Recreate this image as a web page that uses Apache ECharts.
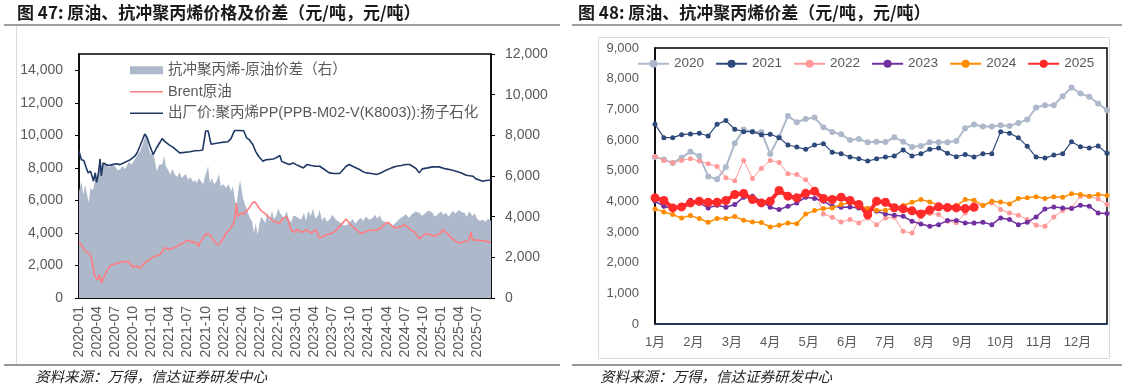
<!DOCTYPE html>
<html><head><meta charset="utf-8">
<script src="https://cdn.jsdelivr.net/npm/echarts@6/dist/echarts.min.js"></script>
<style>html,body{margin:0;padding:0;background:#fff}#c{width:1126px;height:390px}</style>
</head><body><div id="c"></div>
<script>
// ---------- Figure 47 (left) : x = months since 2020-01 ----------
const quarterLabels = ['2020-01','2020-04','2020-07','2020-10','2021-01','2021-04','2021-07','2021-10','2022-01','2022-04','2022-07','2022-10','2023-01','2023-04','2023-07','2023-10','2024-01','2024-04','2024-07','2024-10','2025-01','2025-04','2025-07'];

const ppT = [0,0.4,0.8,1.2,1.5,1.9,2.2,2.4,2.7,2.9,3.2,3.5,3.7,4.0,4.5,5.0,5.5,6.2,6.8,7.4,7.9,8.5,9.2,9.6,10.1,10.5,10.9,11.3,11.8,12.3,12.8,13.3,13.8,14.3,15.0,15.5,16.1,16.7,17.5,18.4,19.2,20.0,20.5,20.8,21.0,21.4,21.9,22.6,23.3,24.0,24.7,25.2,25.5,25.8,26.5,27.3,27.8,28.3,28.8,29.3,29.8,30.5,31.0,31.6,32.2,32.7,33.3,33.6,34.2,34.9,35.5,36.0,36.6,37.2,37.8,38.5,39.2,39.9,40.7,41.5,42.3,43.2,43.8,44.3,44.8,45.6,46.5,47.0,47.6,48.5,49.3,50.1,50.9,51.8,52.6,53.4,54.2,54.8,55.3,55.9,56.4,56.9,57.8,58.6,59.7,60.8,61.6,62.5,63.3,64.2,65.3,65.8,66.4,66.9,67.5,68.1,68.3];
const ppV = [9020,8500,8450,8000,7700,7800,7450,7180,7700,7100,7600,8540,7500,8300,8200,8150,8200,8250,8200,8300,8400,8500,8700,8900,9330,9700,10080,9850,9300,8820,9190,9500,9800,9600,9400,9290,9100,8920,8950,8990,9050,9070,9100,9800,10270,10270,9450,9500,9540,9580,9610,9800,10060,10300,10300,10280,9840,9700,9440,9000,8700,8410,8500,8520,8550,8620,8760,8400,8300,8203,8300,8200,8100,7995,8203,8150,8100,8099,7900,7692,7650,7650,7900,8099,8203,8050,7900,7780,7692,7650,7590,7700,7860,8000,8099,8150,8203,8203,8099,7950,7692,7937,8000,8060,8060,7937,7880,7795,7700,7549,7487,7323,7250,7180,7220,7240,7240];

const brentT = [0,0.35,0.7,1.0,1.3,1.8,2.1,2.4,2.6,3.1,3.4,3.75,4.0,4.3,4.85,5.2,5.6,6.2,6.8,7.5,8.2,8.6,8.9,9.2,9.5,10.1,10.6,11.2,11.8,12.3,12.9,13.4,13.9,14.3,14.8,15.5,16.2,16.8,17.3,17.8,18.5,19.3,19.9,20.0,20.5,20.9,21.3,21.7,22.2,22.6,23.0,23.5,24.0,24.4,24.9,25.3,25.8,26.1,26.3,26.6,26.9,27.3,27.6,28.0,28.4,28.8,29.2,29.5,29.9,30.3,30.8,31.2,31.7,32.2,32.7,33.3,33.8,34.1,34.4,34.7,35.2,35.5,35.9,36.1,36.6,37.0,37.7,38.5,39.3,39.6,39.9,40.5,41.0,41.6,42.1,42.7,43.2,43.8,44.3,44.6,45.0,45.5,46.0,46.4,46.8,47.6,48.4,49.1,49.8,50.3,50.9,51.3,51.8,52.4,53.0,53.5,53.9,54.5,55.0,55.7,56.1,56.4,57.0,57.5,58.0,58.6,59.2,59.8,60.3,60.7,61.1,61.5,61.9,62.5,63.0,63.5,63.9,64.5,65.0,65.2,65.8,66.4,67.0,67.5,68.2];
const brentV = [3423,3300,3080,2900,2808,2725,2360,1800,1330,1125,1430,920,1200,1430,1840,1950,2047,2120,2190,2230,2250,2050,1900,2000,1985,1840,2050,2250,2400,2517,2600,2660,2900,3110,2970,3050,3175,3300,3380,3545,3480,3420,3175,3380,3650,3890,3950,3890,3585,3400,3275,3420,3700,4000,4200,4405,4775,5840,5020,5100,5225,5125,5300,5430,5650,5880,5900,5800,5500,5330,5200,5060,4900,4715,4650,4610,4900,5020,5000,4715,4150,4100,4040,4240,4100,4040,4200,3995,4200,3900,3690,3800,3895,3950,3995,4200,4405,4650,4855,4815,4510,4350,4200,4050,3955,4100,4200,4150,4240,4400,4610,4650,4450,4305,4350,4405,4510,4350,4200,4040,3800,3630,3800,3955,3900,3835,3835,3950,4200,4050,3955,3800,3630,3500,3380,3420,3480,3500,4040,3585,3560,3545,3520,3480,3420];

const spreadT = [0,0.4,0.7,1.0,1.3,1.6,1.9,2.3,2.6,2.9,3.2,3.5,3.8,4.2,4.6,5.0,5.5,6.0,6.4,6.8,7.2,7.6,7.9,8.3,8.7,9.0,9.4,9.7,10.1,10.5,10.9,11.2,11.5,11.9,12.2,12.6,12.9,13.3,13.8,14.1,14.4,14.8,15.1,15.5,15.9,16.3,16.7,17.0,17.3,17.7,18.1,18.5,18.9,19.2,19.5,19.9,20.2,20.6,20.9,21.1,21.4,21.7,22.0,22.4,22.8,23.2,23.5,23.9,24.4,24.8,25.2,25.5,25.8,26.1,26.4,26.7,26.9,27.2,27.5,27.8,28.0,28.4,28.7,29.0,29.3,29.6,29.9,30.2,30.5,30.9,31.2,31.6,32.0,32.3,32.7,33.0,33.3,33.6,34.0,34.4,34.8,35.2,35.5,35.9,36.2,36.5,36.9,37.3,37.6,38.0,38.4,38.8,39.2,39.6,39.9,40.3,40.7,41.1,41.6,42.0,42.4,42.8,43.2,43.7,44.3,44.8,45.4,45.8,46.2,46.7,47.1,47.6,48.1,48.6,49.1,49.5,49.8,50.3,50.9,51.4,52.0,52.5,53.1,53.6,54.2,54.7,55.2,55.8,56.4,56.9,57.4,57.9,58.6,59.0,59.5,60.0,60.4,60.8,61.3,61.9,62.4,63.0,63.5,63.9,64.3,64.7,65.2,65.6,66.0,66.4,66.9,67.4,67.8,68.3];
const spreadV = [5240,5745,5080,5580,5580,4690,5420,5300,5700,5905,6300,6970,6230,6700,6560,6400,6600,6450,6300,6310,6500,6350,6480,6700,6550,6640,6900,7050,7215,7500,7870,8050,7460,7050,7200,6720,6230,6560,6560,7000,6480,6300,6070,6350,6070,5950,6200,5905,5905,6100,5820,5950,5700,5800,5660,5900,5740,5600,6000,6150,6500,5660,5900,5600,5740,6100,5500,5600,5420,5600,5250,5500,4920,4500,5250,5800,5420,4900,4600,4400,4190,3900,3780,3200,3700,3100,3620,4000,3950,3700,4200,3780,4300,3900,4030,4400,4195,4280,3900,4280,3870,3720,4030,4030,4120,3900,3880,4200,3800,4280,4030,4400,3900,4050,4330,3800,4000,3750,3880,4100,3920,3800,3720,3600,3560,3700,3880,3650,3800,3950,3800,4010,3850,3920,4100,3900,4080,3800,3720,3650,3560,3700,3880,4000,4120,3950,4120,4250,4195,4050,4170,4300,4195,4000,4120,4250,4100,4195,4000,4280,4150,4330,4200,4195,4000,4280,4030,4150,3900,3800,3850,3750,3900,3800];

// ---------- Figure 48 (right) : x = week of year ----------
const monthLabels = ['1月','2月','3月','4月','5月','6月','7月','8月','9月','10月','11月','12月'];
const y2020 = [5444,5368,5248,5422,5619,5477,4811,4724,5117,5891,6339,6273,6262,5542,6110,6786,6579,6688,6732,6415,6262,6186,6000,6033,5924,5946,5935,6088,5946,5771,5804,5924,5924,5930,5968,6382,6502,6437,6437,6480,6459,6557,6666,7059,7135,7135,7430,7713,7517,7408,7190,6971];
const y2021 = [6513,6077,6077,6175,6197,6219,6131,6513,6633,6350,6273,6273,6175,6186,6077,5837,5771,5695,5837,5880,5597,5553,5444,5390,5313,5390,5444,5477,5673,5477,5553,5695,5739,5564,5455,5531,5444,5553,5553,6273,6219,6077,5793,5444,5411,5509,5553,5946,5782,5739,5804,5564];
const y2022 = [5466,5335,5259,5335,5390,5313,5226,5139,4768,4669,5335,4746,5073,5335,5270,4899,4877,4700,4385,3589,3480,3328,3404,3295,3458,3240,3458,3480,3022,2967,3500,3600,3567,3349,3300,3622,3895,3873,3949,3731,3622,3546,3404,3218,3186,3491,3698,3786,4168,4168,4080,3895];
const y2023 = [4004,3840,3764,3808,4037,3949,3786,3873,3808,3895,4135,4168,4004,3808,3731,3840,3949,4135,4091,4004,3840,3808,3819,3786,3764,3677,3589,3546,3513,3349,3262,3186,3240,3371,3371,3295,3295,3317,3240,3458,3404,3240,3317,3491,3753,3819,3786,3764,3873,3840,3622,3600];
const y2024 = [3753,3655,3568,3458,3535,3437,3317,3437,3437,3502,3382,3328,3306,3164,3218,3295,3273,3589,3698,3764,3786,3895,3950,3862,3764,3709,3709,3786,3862,3971,4059,3982,3873,3850,3862,4059,4037,3862,4004,3982,3917,4091,4113,4146,4091,4146,4135,4244,4222,4168,4222,4190];
const y2025 = [4113,4026,3786,3819,3949,4004,3971,3971,4026,4222,4255,4059,3949,4004,4353,4168,4113,4260,4331,4091,4059,4135,4026,3895,3560,4004,3970,3790,3760,3690,3589,3715,3820,3795,3786,3764,3808];

const leftNames = ['抗冲聚丙烯-原油价差（右）','Brent原油','出厂价:聚丙烯PP(PPB-M02-V(K8003)):扬子石化'];
const yearNames = ['2020','2021','2022','2023','2024','2025'];

const FONT = "'Liberation Sans','Noto Sans CJK SC',sans-serif";
const pair = (t, v) => t.map((x, i) => [x, v[i]]);
const wk = v => v.map((y, i) => [i, y]);
const fmt = v => v.toLocaleString('en-US');
const GRAY = '#595959';
const MONTH = 52 / 12;
const BAR = 'path://M0,0L40,0L40,2L0,2Z';

const chart = echarts.init(document.getElementById('c'), null, {renderer: 'canvas'});
const yearStyle = [
  {color: '#adb9ca', width: 2, size: 6},
  {color: '#2e4a7a', width: 1.2, size: 5},
  {color: '#ff9999', width: 1, size: 5},
  {color: '#7030a0', width: 1.5, size: 5},
  {color: '#ff8c00', width: 1.5, size: 5},
  {color: '#ff2a2a', width: 4, size: 9}
];
const yearData = [y2020, y2021, y2022, y2023, y2024, y2025];

chart.setOption({
  backgroundColor: '#fff',
  animation: false,
  textStyle: {fontFamily: FONT},
  grid: [
    {left: 79, right: 635, top: 54, bottom: 92, show: true, borderColor: '#000', borderWidth: 1.5, containLabel: false},
    {left: 655, right: 19, top: 48, bottom: 66, show: true, borderColor: '#000', borderWidth: 1.5, containLabel: false}
  ],
  legend: [
    {
      orient: 'vertical', left: 125, top: 58, padding: 5, itemWidth: 33, itemHeight: 8, itemGap: 7,
      textStyle: {color: GRAY, fontSize: 14.5, fontFamily: FONT},
      data: [
        {name: leftNames[0], icon: 'rect'},
        {name: leftNames[1], icon: BAR},
        {name: leftNames[2], icon: BAR}
      ]
    },
    {
      left: 632, top: 52, padding: 5, itemWidth: 31, itemHeight: 10, itemGap: 11,
      textStyle: {color: GRAY, fontSize: 13.5, fontFamily: FONT},
      data: yearNames
    }
  ],
  xAxis: [
    {
      type: 'value', gridIndex: 0, min: 0, max: 68.3, interval: 3,
      axisLine: {lineStyle: {color: '#000', width: 1.5}},
      axisTick: {show: true, inside: true, length: 4, lineStyle: {color: '#000'}},
      splitLine: {show: false},
      axisLabel: {rotate: 90, margin: 8, color: GRAY, fontSize: 14, fontFamily: FONT, showMaxLabel: false,
        formatter: v => quarterLabels[Math.round(v / 3)] || ''}
    },
    {
      type: 'value', gridIndex: 1, min: 0, max: 51, interval: MONTH,
      axisLine: {lineStyle: {color: '#1f3864', width: 1.5}},
      axisTick: {show: false}, splitLine: {show: false},
      axisLabel: {margin: 12, color: GRAY, fontSize: 13, fontFamily: FONT, showMaxLabel: false,
        formatter: v => monthLabels[Math.round(v / MONTH)] || ''}
    }
  ],
  yAxis: [
    {
      type: 'value', gridIndex: 0, position: 'left', min: 0, max: 15000, interval: 2000,
      axisLine: {show: true, lineStyle: {color: '#000', width: 1.5}},
      axisTick: {show: true, length: 4, lineStyle: {color: '#000'}},
      splitLine: {show: false},
      axisLabel: {margin: 16, color: GRAY, fontSize: 14, fontFamily: FONT, showMaxLabel: false,
        formatter: v => (v > 14000 ? '' : fmt(v))}
    },
    {
      type: 'value', gridIndex: 0, position: 'right', min: 0, max: 12000, interval: 2000,
      axisLine: {show: true, lineStyle: {color: '#000', width: 1.5}},
      axisTick: {show: true, length: 4, lineStyle: {color: '#000'}},
      splitLine: {show: false},
      axisLabel: {margin: 14, color: GRAY, fontSize: 14, fontFamily: FONT, formatter: fmt}
    },
    {
      type: 'value', gridIndex: 1, min: 0, max: 9000, interval: 1000,
      axisLine: {show: true, lineStyle: {color: '#000', width: 1.5}},
      axisTick: {show: false}, splitLine: {show: false},
      axisLabel: {margin: 16, color: GRAY, fontSize: 13, fontFamily: FONT, formatter: fmt}
    }
  ],
  series: [
    {
      name: leftNames[0], type: 'line', xAxisIndex: 0, yAxisIndex: 1, data: pair(spreadT, spreadV),
      symbol: 'none', lineStyle: {width: 0, color: '#adb9ca'}, itemStyle: {color: '#adb9ca'},
      areaStyle: {color: '#adb9ca', opacity: 1}, z: 1
    },
    {
      name: leftNames[1], type: 'line', xAxisIndex: 0, yAxisIndex: 0, data: pair(brentT, brentV),
      symbol: 'none', lineStyle: {width: 1.6, color: '#ff7c80'}, itemStyle: {color: '#ff7c80'}, z: 3
    },
    {
      name: leftNames[2], type: 'line', xAxisIndex: 0, yAxisIndex: 0, data: pair(ppT, ppV),
      symbol: 'none', lineStyle: {width: 1.6, color: '#1f3864'}, itemStyle: {color: '#1f3864'}, z: 3
    }
  ].concat(yearNames.map((n, k) => ({
    name: n, type: 'line', xAxisIndex: 1, yAxisIndex: 2, data: wk(yearData[k]),
    symbol: 'circle', symbolSize: yearStyle[k].size, showSymbol: true,
    lineStyle: {width: yearStyle[k].width, color: yearStyle[k].color},
    itemStyle: {color: yearStyle[k].color}, z: 3 + k
  }))),
  graphic: [
    {type: 'text', left: 17, top: 4, style: {text: '图 47: 原油、抗冲聚丙烯价格及价差（元/吨，元/吨）', font: "bold 17px 'Noto Sans CJK SC'", fill: '#1a1a1a'}},
    {type: 'text', left: 578, top: 4, style: {text: '图 48: 原油、抗冲聚丙烯价差（元/吨，元/吨）', font: "bold 17px 'Noto Sans CJK SC'", fill: '#1a1a1a'}},
    {type: 'line', shape: {x1: 4, y1: 25, x2: 560, y2: 25}, style: {stroke: '#7f7f7f', lineWidth: 1.5}},
    {type: 'line', shape: {x1: 572, y1: 25, x2: 1122, y2: 25}, style: {stroke: '#7f7f7f', lineWidth: 1.5}},
    {type: 'line', shape: {x1: 16.5, y1: 26, x2: 16.5, y2: 364}, style: {stroke: '#d9d9d9', lineWidth: 1}},
    {type: 'rect', shape: {x: 598.5, y: 37.5, width: 511, height: 321}, style: {stroke: '#d9d9d9', fill: null, lineWidth: 1}},
    {type: 'line', shape: {x1: 4, y1: 365, x2: 560, y2: 365}, style: {stroke: '#333', lineWidth: 1}},
    {type: 'line', shape: {x1: 572, y1: 365, x2: 1122, y2: 365}, style: {stroke: '#333', lineWidth: 1}},
    {type: 'text', left: 35, top: 369, style: {text: '资料来源：万得，信达证券研发中心', font: "italic 14.5px 'Noto Sans CJK SC'", fill: '#222'}},
    {type: 'text', left: 600, top: 369, style: {text: '资料来源：万得，信达证券研发中心', font: "italic 14.5px 'Noto Sans CJK SC'", fill: '#222'}}
  ]
});
</script></body></html>
